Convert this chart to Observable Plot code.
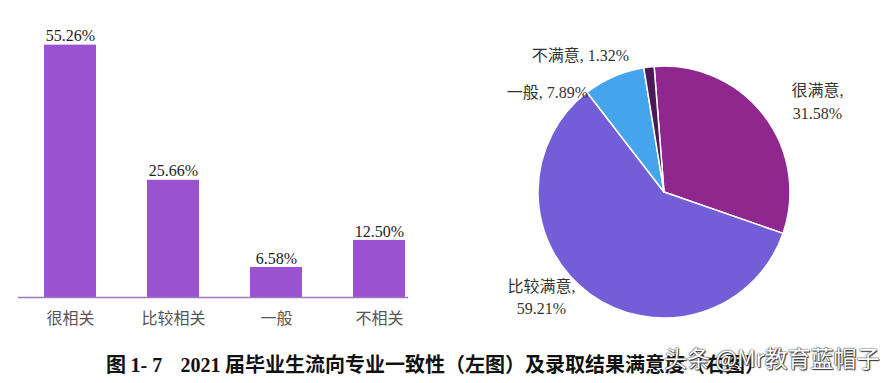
<!DOCTYPE html>
<html>
<head>
<meta charset="utf-8">
<script src="https://cdn.jsdelivr.net/npm/d3@7"></script>
<script src="https://cdn.jsdelivr.net/npm/@observablehq/plot@0.6"></script>
<style>
  html, body { margin: 0; padding: 0; background: #fff; }
  #wrap { position: relative; width: 896px; height: 383px; overflow: hidden; background: #fff; }
  #left { position: absolute; left: 0; top: 0; }
  #right { position: absolute; left: 450px; top: 0; }
  #caption { position: absolute; left: 106px; top: 352px; font-size: 20px; font-weight: bold; color: #111; white-space: nowrap; font-family: "Noto Sans CJK SC", sans-serif; line-height: 24px; }
  #caption .num { font-family: "Liberation Serif", serif; }
  #wm { position: absolute; left: 664px; top: 342px; font-size: 23px; color: #fff; white-space: nowrap; font-family: "Noto Sans CJK SC", sans-serif; text-shadow: 0 0 1px #222, 0 0 2px #444, 1px 1px 1px #333; line-height: 30px; }
</style>
</head>
<body>
<div id="wrap">
  <div id="left"></div>
  <div id="right"></div>
  <div id="caption">图 <span class="num">1- 7</span>&nbsp;&nbsp;&nbsp;&nbsp;<span class="num">2021</span> 届毕业生流向专业一致性（左图）及录取结果满意度（右图）</div>
  <div id="wm">头条 @Mr教育蓝帽子</div>
</div>
<script>
// Left chart: 专业一致性
const barCategories = ["很相关", "比较相关", "一般", "不相关"];
const barValues = [55.26, 25.66, 6.58, 12.50];
const barLabels = ["55.26%", "25.66%", "6.58%", "12.50%"];

// Right chart: 录取结果满意度
const pieCategories = ["很满意", "比较满意", "一般", "不满意"];
const pieValues = [31.58, 59.21, 7.89, 1.32];
const pieLabels = ["31.58%", "59.21%", "7.89%", "1.32%"];
const pieColors = ["#90278f", "#745ed8", "#45a5ec", "#4b1a55"];

const barData = barCategories.map((c, i) => ({cat: c, value: barValues[i], label: barLabels[i]}));

const left = Plot.plot({
  width: 440,
  height: 340,
  marginLeft: 18,
  marginRight: 32,
  marginTop: 23,
  marginBottom: 43,
  style: {fontFamily: "'Liberation Serif', 'Noto Sans CJK SC', serif", background: "#fff"},
  x: {domain: barCategories, range: [18, 430], paddingInner: 0.5, paddingOuter: 0.25, label: null},
  y: {domain: [0, 60], axis: null},
  marks: [
    Plot.barY(barData, {x: "cat", y: "value", fill: "#9b52d1"}),
    Plot.ruleY([0], {stroke: "#a07ab8", strokeWidth: 1.5}),
    Plot.text(barData, {x: "cat", y: "value", text: "label", dy: -9, fontSize: 16, fill: "#222"}),
    Plot.axisX({tickSize: 0, tickPadding: 15, fontSize: 16, color: "#555", fontFamily: "'Noto Sans CJK SC', sans-serif", label: null})
  ]
});
document.getElementById("left").appendChild(left);

// Pie: drawn with d3.pie / d3.arc inside a Plot render-function mark
const pieData = pieCategories.map((c, i) => ({cat: c, value: pieValues[i], label: pieLabels[i], color: pieColors[i]}));
const startDeg = -4.5;
const cx = 214, cy = 192, R = 126;

function pieMark() {
  const g = d3.create("svg:g");
  const arcs = d3.pie().value(d => d.value).sort(null)
    .startAngle(startDeg * Math.PI / 180)
    .endAngle(startDeg * Math.PI / 180 + 2 * Math.PI)(pieData);
  const arc = d3.arc().innerRadius(0).outerRadius(R);
  g.attr("transform", `translate(${cx},${cy})`);
  g.selectAll("path").data(arcs).join("path")
    .attr("d", arc)
    .attr("fill", d => d.data.color)
    .attr("stroke", "#fff")
    .attr("stroke-width", 1.5)
    .attr("stroke-linejoin", "round");
  return g.node();
}

// label positions (pixel offsets within the right panel)
const pieLabelRows = [
  {text: "很满意,", x: 367, y: 90},
  {text: pieLabels[0], x: 367, y: 113},
  {text: "比较满意,", x: 91, y: 286},
  {text: pieLabels[1], x: 91, y: 308},
  {text: pieCategories[2] + ", " + pieLabels[2], x: 97, y: 92},
  {text: pieCategories[3] + ", " + pieLabels[3], x: 130, y: 55}
];

const right = Plot.plot({
  width: 446,
  height: 340,
  margin: 0,
  style: {fontFamily: "'Liberation Serif', 'Noto Sans CJK SC', serif", background: "transparent"},
  x: {type: "identity", axis: null},
  y: {type: "identity", axis: null},
  marks: [
    pieMark,
    Plot.text(pieLabelRows, {x: "x", y: "y", text: "text", fontSize: 16, fill: "#333"})
  ]
});
document.getElementById("right").appendChild(right);
</script>
</body>
</html>
